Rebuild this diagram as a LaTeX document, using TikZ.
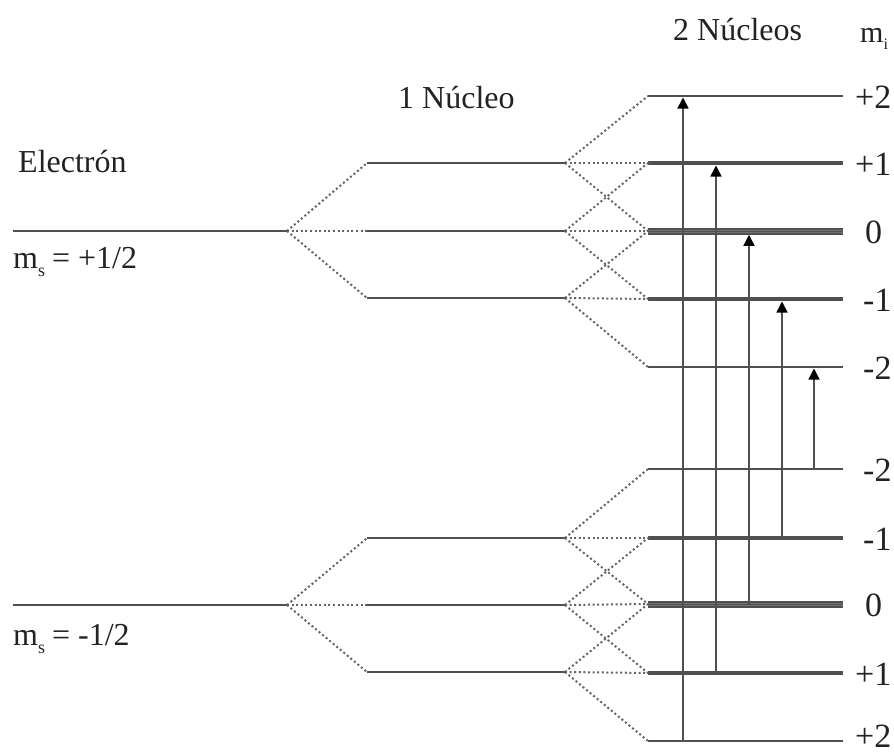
\documentclass[tikz,border=0pt]{standalone}
\usepackage{fontspec}
\setmainfont{Liberation Serif}
\usetikzlibrary{arrows.meta}
\definecolor{lvl}{HTML}{505050}
\definecolor{txt}{HTML}{222222}
\definecolor{dots}{HTML}{646464}
\begin{document}
\begin{tikzpicture}[x=1pt,y=-1pt,
  level/.style={draw=lvl, line width=2.2pt},
  dlevel/.style={draw=lvl, line width=4.4pt},
  tlevel/.style={draw=lvl, line width=7pt},
  stripe/.style={draw=lvl!80, line width=0.6pt},
  split/.style={draw=dots, line width=2pt, dash pattern=on 2pt off 2.6pt},
  trans/.style={draw=lvl, line width=1.5pt, -{Triangle[width=11pt,length=11pt,color=black]}},
  lab/.style={text=txt, font=\fontsize{32}{38}\selectfont, inner sep=0pt, anchor=base west},
  rlab/.style={lab, font=\fontsize{34}{38}\selectfont}]
\useasboundingbox (0,0) rectangle (894,753);

% electron levels
\coordinate (eu-l) at (13,231); \coordinate (eu-r) at (287,231);
\coordinate (ed-l) at (13,605); \coordinate (ed-r) at (287,605);
\draw[level] (eu-l) -- (eu-r);
\draw[level] (ed-l) -- (ed-r);

% one-nucleus levels
\foreach \n/\y in {a/163,b/231,c/298,d/538,e/605,f/672}{
  \coordinate (n1\n-l) at (367,\y);
  \coordinate (n1\n-r) at (565,\y);
  \draw[level] (n1\n-l) -- (n1\n-r);
}

% two-nuclei levels
\foreach \n/\y in {a/96,b/163,c/231,d/299,e/367,f/469,g/538,h/604,i/673,j/741}{
  \coordinate (n2\n-l) at (648,\y);
  \coordinate (n2\n-r) at (843,\y);
}
% single
\foreach \n in {a,e,f,j}{\draw[level] (n2\n-l) -- (n2\n-r);}
% double
\foreach \n in {b,d,g,i}{
  \draw[dlevel] (n2\n-l) -- (n2\n-r);
}
% triple
\foreach \n in {c,h}{
  \draw[tlevel] (n2\n-l) -- (n2\n-r);
  \draw[stripe] ([yshift=1.2pt]n2\n-l) -- ([yshift=1.2pt]n2\n-r);
  \draw[stripe] ([yshift=-1.2pt]n2\n-l) -- ([yshift=-1.2pt]n2\n-r);
}

% splittings electron -> 1 nucleus
\foreach \n in {a,b,c}{\draw[split] (eu-r) -- (n1\n-l);}
\foreach \n in {d,e,f}{\draw[split] (ed-r) -- (n1\n-l);}

% splittings 1 nucleus -> 2 nuclei
\foreach \s/\p/\q/\r in {a/a/b/c, b/b/c/d, c/c/d/e, d/f/g/h, e/g/h/i, f/h/i/j}{
  \draw[split] (n1\s-r) -- (n2\p-l);
  \draw[split] (n1\s-r) -- (n2\q-l);
  \draw[split] (n1\s-r) -- (n2\r-l);
}

% transitions
\coordinate (x1) at (683,0);
\coordinate (x2) at (716,0);
\coordinate (x3) at (749,0);
\coordinate (x4) at (782,0);
\coordinate (x5) at (814,0);
\draw[trans] (x1 |- n2j-l) -- ([yshift=-1.5pt]x1 |- n2a-l);
\draw[trans] (x2 |- n2i-l) -- ([yshift=-2.5pt]x2 |- n2b-l);
\draw[trans] (x3 |- n2h-l) -- ([yshift=-3.8pt]x3 |- n2c-l);
\draw[trans] (x4 |- n2g-l) -- ([yshift=-2.5pt]x4 |- n2d-l);
\draw[trans] (x5 |- n2f-l) -- ([yshift=-1.5pt]x5 |- n2e-l);

% texts
\node[lab] (electron) at (18,172) {Electrón};
\node[lab] (msup) at (13,268) {m\raisebox{-8pt}{\fontsize{18}{18}\selectfont s}\hspace{-1pt} = +1/2};
\node[lab] (msdown) at (13,645) {m\raisebox{-8pt}{\fontsize{18}{18}\selectfont s}\hspace{-1pt} = -1/2};
\node[lab] (nuc1) at (398,108) {1 Núcleo};
\node[lab] (nuc2) at (673,40) {2 Núcleos};
\node[lab, font=\fontsize{30}{34}\selectfont] (mi) at (860,42) {m\raisebox{-7pt}{\fontsize{16}{16}\selectfont i}};

\node[rlab] (la) at (855,108) {+2};
\node[rlab] (lb) at (855,175) {+1};
\node[rlab] (lc) at (865,243) {0};
\node[rlab] (ld) at (863,311) {-1};
\node[rlab] (le) at (863,379) {-2};
\node[rlab] (lf) at (863,481) {-2};
\node[rlab] (lg) at (863,550) {-1};
\node[rlab] (lh) at (865,616) {0};
\node[rlab] (li) at (855,685) {+1};
\node[rlab] (lj) at (855,747) {+2};
\end{tikzpicture}
\end{document}
